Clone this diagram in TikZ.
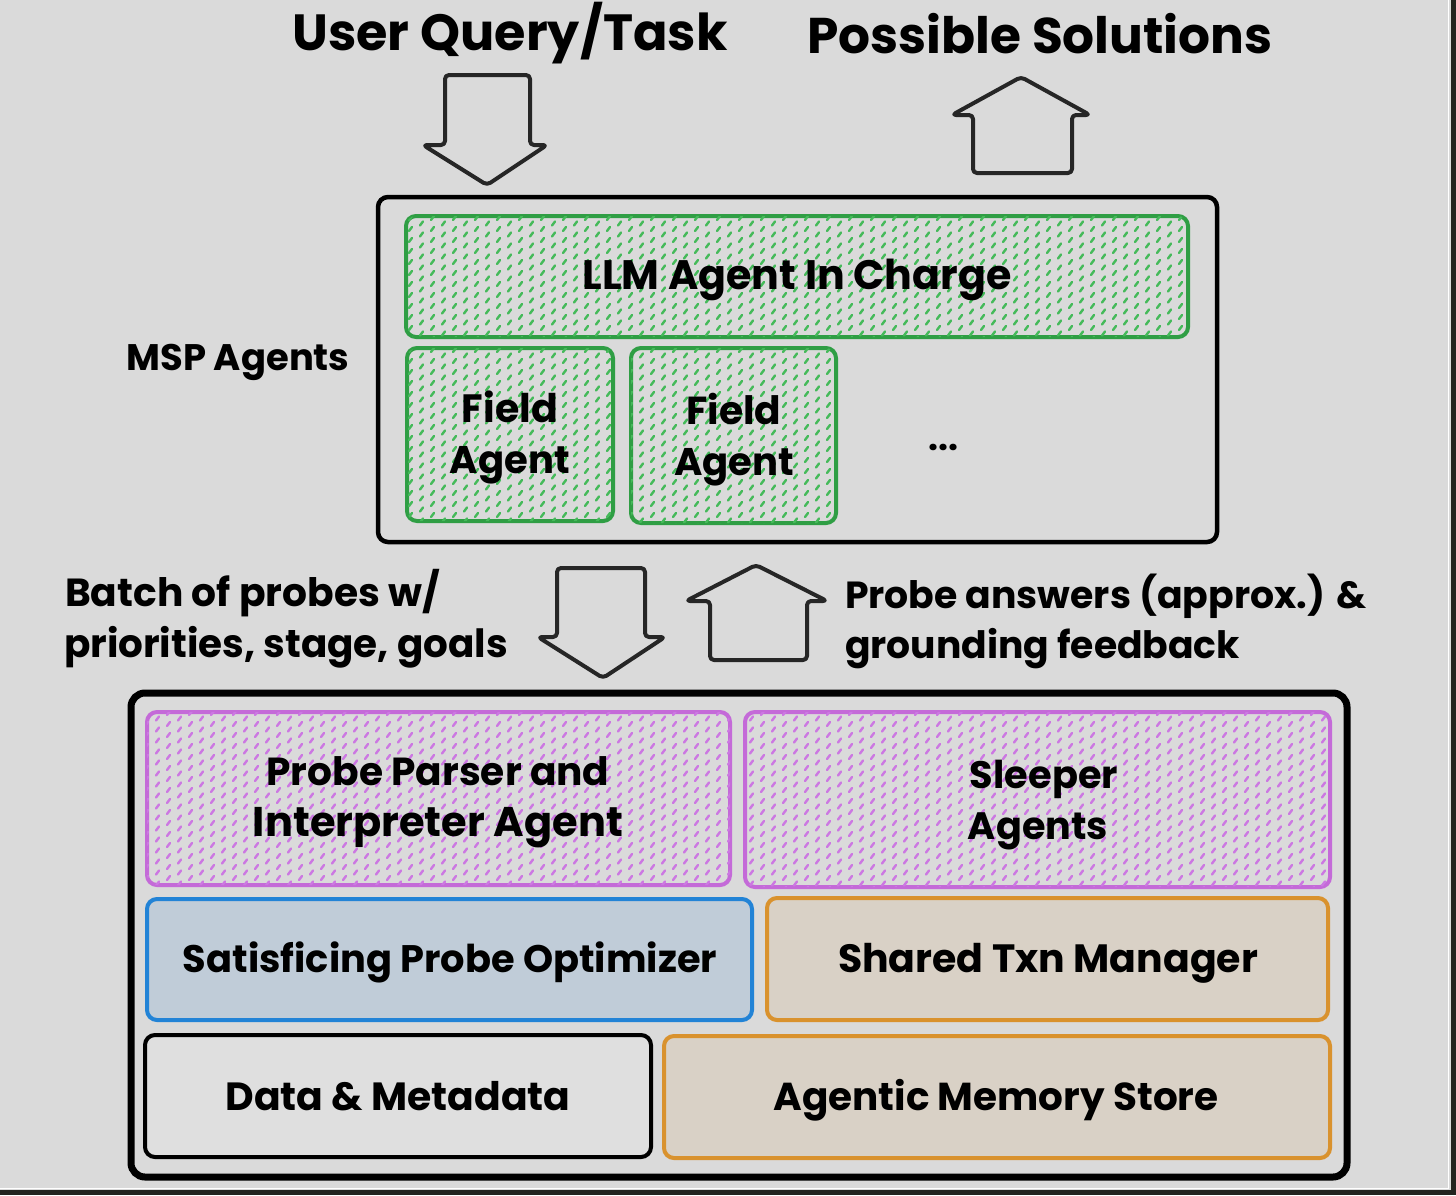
\documentclass[tikz,border=0pt]{standalone}
\usepackage{fontspec}
\setmainfont{Poppins}
\usetikzlibrary{patterns}
\definecolor{bg}{HTML}{DADADA}
\definecolor{gline}{HTML}{2F9E44}
\definecolor{ghatch}{HTML}{45BA5A}
\definecolor{pline}{HTML}{C46AD8}
\definecolor{phatch}{HTML}{CC78E2}
\definecolor{bline}{HTML}{2283D6}
\definecolor{bfill}{HTML}{C0CCD8}
\definecolor{oline}{HTML}{D9922E}
\definecolor{ofill}{HTML}{D9D1C6}
\definecolor{dfill}{HTML}{DFDFDF}
\definecolor{edge}{HTML}{23231F}
\pgfdeclarepatternformonly{dashhatch}{\pgfqpoint{-1pt}{-1pt}}{\pgfqpoint{23pt}{12pt}}{\pgfqpoint{22pt}{11pt}}{%
  \pgfsetlinewidth{2.4pt}\pgfsetroundcap
  \pgfpathmoveto{\pgfqpoint{2pt}{1.5pt}}\pgfpathlineto{\pgfqpoint{5pt}{5.5pt}}%
  \pgfpathmoveto{\pgfqpoint{13pt}{7pt}}\pgfpathlineto{\pgfqpoint{16pt}{11pt}}%
  \pgfusepath{stroke}}
\newcommand{\fitw}[2]{\resizebox{#1pt}{!}{\bfseries #2}}
\tikzset{
  boxbase/.style={inner sep=0pt, outer sep=0pt, anchor=north west, rounded corners=10pt, line width=4pt},
  greenbox/.style={boxbase, draw=gline, fill=bg, postaction={pattern=dashhatch, pattern color=ghatch}},
  purplebox/.style={boxbase, draw=pline, fill=bg, postaction={pattern=dashhatch, pattern color=phatch}},
  bluebox/.style={boxbase, draw=bline, fill=bfill},
  orangebox/.style={boxbase, draw=oline, fill=ofill},
  plainbox/.style={boxbase, draw=black, fill=dfill},
  txt/.style={inner sep=0pt, outer sep=0pt, anchor=base, text=black},
  txtl/.style={txt, anchor=base west},
  blockarrow/.style={draw=black!85, line width=4pt, rounded corners=4pt, line join=round}
}
\begin{document}
\begin{tikzpicture}[x=1pt,y=-1pt]
\fill[bg] (0,0) rectangle (1456,1195);
\useasboundingbox (0,0) rectangle (1456,1195);
% dark frame edges
\fill[edge] (1451,0) rectangle (1456,1195);
\fill[edge] (0,1190) rectangle (1456,1195);
\draw[white, line width=1pt] (1448.5,0) -- (1448.5,1188.5) -- (0,1188.5);

% top titles
\node[txt] (uq) at (510,50) {\fitw{435}{User Query/Task}};
\node[txt] (ps) at (1040,53) {\fitw{465}{Possible Solutions}};

% top arrows
\coordinate (a1) at (487,185);
\draw[blockarrow] (445,75) -- (530,75) -- (530,145) -- (547,145) -- (a1) -- (423,145) -- (445,145) -- cycle;
\coordinate (a2) at (1021,77);
\draw[blockarrow] (973,173) -- (973,115) -- (952,115) -- (a2) -- (1090,115) -- (1072,115) -- (1072,173) -- cycle;

% MSP box
\node[boxbase, draw=black, minimum width=839pt, minimum height=345pt, rounded corners=10pt, line width=4.5pt] (msp) at (378,197) {};
\node[greenbox, minimum width=782pt, minimum height=121pt] (llm) at (406,216) {};
\node[txt] (llmt) at (797,289) {\fitw{429}{LLM Agent In Charge}};
\node[greenbox, minimum width=206pt, minimum height=173pt] (fa1) at (407,348) {};
\node[txt] (fa1a) at (510,422) {\fitw{96}{Field}};
\node[txt] (fa1b) at (510,473) {\fitw{120}{Agent}};
\node[greenbox, minimum width=205pt, minimum height=175pt] (fa2) at (631,348) {};
\node[txt] (fa2a) at (734,424) {\fitw{95}{Field}};
\node[txt] (fa2b) at (734,475) {\fitw{120}{Agent}};
\node[txt] (dots) at (943,450) {\fitw{30}{...}};
\node[txt] (mspl) at (238,370) {\fitw{223}{MSP Agents}};

% middle labels
\node[txtl] (bl1) at (65,606) {\fitw{375}{Batch of probes w/}};
\node[txtl] (bl2) at (64,657) {\fitw{444}{priorities, stage, goals}};
\node[txtl] (pa1) at (845,608) {\fitw{521}{Probe answers (approx.) \&}};
\node[txtl] (pa2) at (845,658) {\fitw{395}{grounding feedback}};

% middle arrows
\coordinate (a3) at (603,678);
\draw[blockarrow] (557,568) -- (645,568) -- (645,637) -- (665,637) -- (a3) -- (538,637) -- (557,637) -- cycle;
\coordinate (a4) at (756,565);
\draw[blockarrow] (710,660) -- (710,601) -- (686,601) -- (a4) -- (827,601) -- (807,601) -- (807,660) -- cycle;

% bottom big box
\node[boxbase, draw=black, minimum width=1216pt, minimum height=484pt, rounded corners=14pt, line width=7pt] (sys) at (131,693) {};
\node[purplebox, minimum width=583pt, minimum height=173pt] (ppi) at (147,712) {};
\node[txt] (ppi1) at (438,785) {\fitw{343}{Probe Parser and}};
\node[txt] (ppi2) at (438,836) {\fitw{370}{Interpreter Agent}};
\node[purplebox, minimum width=585pt, minimum height=175pt] (sla) at (745,712) {};
\node[txt] (sla1) at (1044,788) {\fitw{148}{Sleeper}};
\node[txt] (sla2) at (1038,839) {\fitw{140}{Agents}};
\node[bluebox, minimum width=605pt, minimum height=121pt] (spo) at (147,899) {};
\node[txt] (spot) at (450,972) {\fitw{534}{Satisficing Probe Optimizer}};
\node[orangebox, minimum width=561pt, minimum height=122pt] (stm) at (767,898) {};
\node[txt] (stmt) at (1048,972) {\fitw{420}{Shared Txn Manager}};
\node[plainbox, minimum width=506pt, minimum height=122pt] (dm) at (145,1035) {};
\node[txt] (dmt) at (398,1110) {\fitw{345}{Data \& Metadata}};
\node[orangebox, minimum width=666pt, minimum height=122pt] (ams) at (664,1036) {};
\node[txt] (amst) at (996,1110) {\fitw{445}{Agentic Memory Store}};
\end{tikzpicture}
\end{document}
